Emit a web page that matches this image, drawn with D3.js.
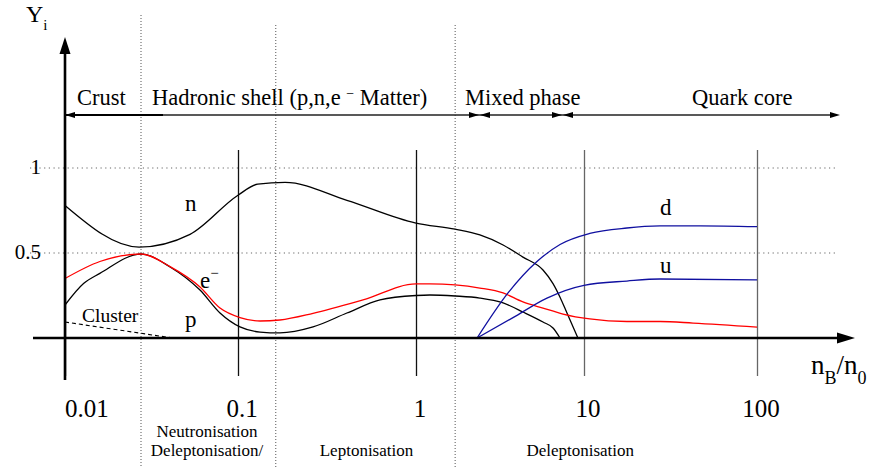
<!DOCTYPE html>
<html>
<head>
<meta charset="utf-8">
<script src="https://cdn.jsdelivr.net/npm/d3@7"></script>
<style>
  body { margin: 0; background: white; }
</style>
</head>
<body>
<div id="chart"></div>
<script>
// abundances Y_i against n_B/n_0 (log axis)
const neutron = [[0.01, 0.78], [0.0268, 0.535], [0.0528, 0.61], [0.1, 0.84], [0.129, 0.905],
  [0.184, 0.915], [0.409, 0.81], [1.0, 0.676], [1.71, 0.64], [2.4, 0.606], [3.3, 0.547],
  [4.33, 0.476], [5.7, 0.4], [6.54, 0.32], [7.2, 0.24], [7.92, 0.147], [9.2, 0]];
const electron = [[0.01, 0.35], [0.0159, 0.45], [0.0275, 0.494], [0.0405, 0.42], [0.0603, 0.3],
  [0.0787, 0.176], [0.1026, 0.12], [0.133, 0.1], [0.172, 0.106], [0.264, 0.145], [0.504, 0.224],
  [1.0, 0.318], [1.21, 0.318], [1.71, 0.312], [2.4, 0.294], [3.3, 0.265], [4.33, 0.212],
  [5.7, 0.176], [7.5, 0.141], [10.8, 0.112], [17.7, 0.097], [27.5, 0.097], [42.7, 0.088],
  [100, 0.064]];
const proton = [[0.01, 0.194], [0.0128, 0.32], [0.0159, 0.38], [0.0275, 0.494], [0.0405, 0.418],
  [0.0603, 0.282], [0.0787, 0.147], [0.1026, 0.065], [0.133, 0.035], [0.172, 0.03],
  [0.264, 0.065], [0.409, 0.147], [0.628, 0.224], [1.0, 0.25], [1.21, 0.253], [1.71, 0.247],
  [2.4, 0.235], [3.3, 0.206], [4.33, 0.153], [5.7, 0.094], [6.54, 0.059], [7.2, 0]];
const cluster = [[0.01, 0.094], [0.042, 0]];
const downQuark = [[2.31, 0], [3.53, 0.265], [5.25, 0.45], [7.2, 0.55], [10.8, 0.615],
  [17.7, 0.647], [27.5, 0.659], [46.9, 0.66], [100, 0.655]];
const upQuark = [[2.31, 0], [3.78, 0.12], [6.02, 0.235], [10, 0.31], [17.7, 0.335],
  [27.5, 0.347], [100, 0.342]];

const tickValues = [0.01, 0.1, 1, 10, 100];
const tickLabels = ['0.01', '0.1', '1', '10', '100'];
const yGrid = [0.5, 1];
const yLabels = ['0.5', '1'];
const phaseBounds = [0.0275, 0.163, 1.71];
const processLabels = [
  { lines: ['Neutronisation', 'Deleptonisation/'], at: 0.0662 },
  { lines: ['Leptonisation'], at: 0.527 },
  { lines: ['Deleptonisation'], at: 9.5 }
];

const width = 877, height = 467;
const serif = '"Liberation Serif", "Times New Roman", "DejaVu Serif", serif';

const svg = d3.select('#chart').append('svg')
  .attr('width', width)
  .attr('height', height)
  .attr('font-family', serif)
  .style('font-family', serif);

const x = d3.scaleLog()
  .domain(tickValues)
  .range([65, 238, 416, 584, 757]);
const y = d3.scaleLinear().domain([0, 1]).range([338, 168]);

// dotted guides
svg.selectAll('.hgrid').data(yGrid).enter().append('line')
  .attr('x1', 30).attr('x2', 838)
  .attr('y1', d => y(d)).attr('y2', d => y(d))
  .attr('stroke', '#666').attr('stroke-width', 1.2)
  .attr('stroke-dasharray', '1.2,3.5');

svg.selectAll('.vgrid').data(phaseBounds).enter().append('line')
  .attr('x1', d => x(d)).attr('x2', d => x(d))
  .attr('y1', (d, i) => i === 0 ? 15 : 25).attr('y2', height)
  .attr('stroke', '#555').attr('stroke-width', 1)
  .attr('stroke-dasharray', '1,2');

// long vertical ticks through the plot
const axis = d3.axisBottom(x)
  .tickValues(tickValues)
  .tickSize(226)
  .tickFormat('');
const axisG = svg.append('g')
  .attr('transform', 'translate(0,150)')
  .call(axis);
axisG.select('.domain').remove();
axisG.selectAll('.tick line')
  .attr('stroke', (d) => d >= 10 ? '#666' : '#111')
  .attr('stroke-width', 1.3);

svg.selectAll('.xlab').data(tickValues).enter().append('text')
  .attr('x', (d, i) => i === 0 ? x(d) : x(d) + 4)
  .attr('y', 417)
  .attr('text-anchor', (d, i) => i === 0 ? 'start' : 'middle')
  .style('font-size', '25px')
  .text((d, i) => tickLabels[i]);

svg.selectAll('.ylab').data(yGrid).enter().append('text')
  .attr('x', 41)
  .attr('y', d => y(d) + 6)
  .attr('text-anchor', 'end')
  .style('font-size', '21px')
  .text((d, i) => yLabels[i]);

// curves
const line = d3.line()
  .x(d => x(d[0]))
  .y(d => y(d[1]))
  .curve(d3.curveMonotoneX);

const series = [
  { data: neutron, color: '#000' },
  { data: proton, color: '#000' },
  { data: electron, color: '#f00' },
  { data: downQuark, color: '#1010a0' },
  { data: upQuark, color: '#1010a0' }
];
svg.selectAll('.curve').data(series).enter().append('path')
  .attr('d', d => line(d.data))
  .attr('fill', 'none')
  .attr('stroke', d => d.color)
  .attr('stroke-width', 1.3);

svg.append('path')
  .attr('d', d3.line().x(d => x(d[0])).y(d => y(d[1]))(cluster))
  .attr('fill', 'none')
  .attr('stroke', '#000')
  .attr('stroke-width', 1.1)
  .attr('stroke-dasharray', '4,3');

// axes with arrow heads
svg.append('line')
  .attr('x1', 33).attr('x2', 840)
  .attr('y1', y(0)).attr('y2', y(0))
  .attr('stroke', '#000').attr('stroke-width', 2.6);
svg.append('path')
  .attr('d', `M855,${y(0)} L837,${y(0) - 5.5} L837,${y(0) + 5.5} Z`)
  .attr('fill', '#000');
svg.append('line')
  .attr('x1', x(0.01)).attr('x2', x(0.01))
  .attr('y1', 380).attr('y2', 50)
  .attr('stroke', '#000').attr('stroke-width', 2.6);
svg.append('path')
  .attr('d', `M${x(0.01)},37 L${x(0.01) - 5.5},54 L${x(0.01) + 5.5},54 Z`)
  .attr('fill', '#000');

// phase arrow line
const arrowY = 115;
svg.append('line')
  .attr('x1', 66).attr('x2', 834)
  .attr('y1', arrowY).attr('y2', arrowY)
  .attr('stroke', '#222').attr('stroke-width', 1.3);
svg.append('line')
  .attr('x1', 66).attr('x2', 163)
  .attr('y1', arrowY).attr('y2', arrowY)
  .attr('stroke', '#000').attr('stroke-width', 1.8);
const heads = [[65, -1], [479, 1], [480, -1], [562, 1], [563, -1], [840, 1]];
svg.selectAll('.head').data(heads).enter().append('path')
  .attr('d', d => {
    const tip = d[0], dir = d[1];
    return `M${tip},${arrowY} L${tip - dir * 10},${arrowY - 3} L${tip - dir * 10},${arrowY + 3} Z`;
  })
  .attr('fill', '#000');

// phase names
const phaseText = svg.append('g').style('font-size', '22.5px');
phaseText.append('text').attr('x', 77).attr('y', 105).text('Crust');
const had = phaseText.append('text').attr('x', 152).attr('y', 105);
had.append('tspan').text('Hadronic shell (p,n,e ');
had.append('tspan').attr('dy', -7).style('font-size', '14px').text('\u2212');
had.append('tspan').attr('dy', 7).text(' Matter)');
phaseText.append('text').attr('x', 465).attr('y', 105).text('Mixed phase');
phaseText.append('text').attr('x', 692).attr('y', 105).text('Quark core');

// axis titles
const yt = svg.append('text').attr('x', 26).attr('y', 22).style('font-size', '24px');
yt.append('tspan').text('Y');
yt.append('tspan').attr('dy', 8).style('font-size', '15px').text('i');

const xt = svg.append('text').attr('x', 811).attr('y', 374).style('font-size', '27px');
xt.append('tspan').text('n');
xt.append('tspan').attr('dy', 10).style('font-size', '18px').text('B');
xt.append('tspan').attr('dy', -10).text('/n');
xt.append('tspan').attr('dy', 10).style('font-size', '18px').text('0');

// curve labels
const curveLabels = [
  { t: 'n', at: [0.0494, 0.75] },
  { t: 'p', at: [0.0494, 0.065] },
  { t: 'd', at: [27.5, 0.725] },
  { t: 'u', at: [27.5, 0.385] }
];
svg.selectAll('.clab').data(curveLabels).enter().append('text')
  .attr('x', d => x(d.at[0]))
  .attr('y', d => y(d.at[1]))
  .style('font-size', '23px')
  .text(d => d.t);
const el = svg.append('text')
  .attr('x', x(0.0603)).attr('y', y(0.295))
  .style('font-size', '23px');
el.append('tspan').text('e');
el.append('tspan').attr('dy', -10).style('font-size', '15px').text('\u2212');

svg.append('text')
  .attr('x', 82).attr('y', 322)
  .style('font-size', '19.5px')
  .text('Cluster');

// process labels below the axis
processLabels.forEach((p) => {
  p.lines.forEach((s, i) => {
    svg.append('text')
      .attr('x', x(p.at))
      .attr('y', 456 - (p.lines.length - 1 - i) * 19)
      .attr('text-anchor', 'middle')
      .style('font-size', '17px')
      .text(s);
  });
});
</script>
</body>
</html>
